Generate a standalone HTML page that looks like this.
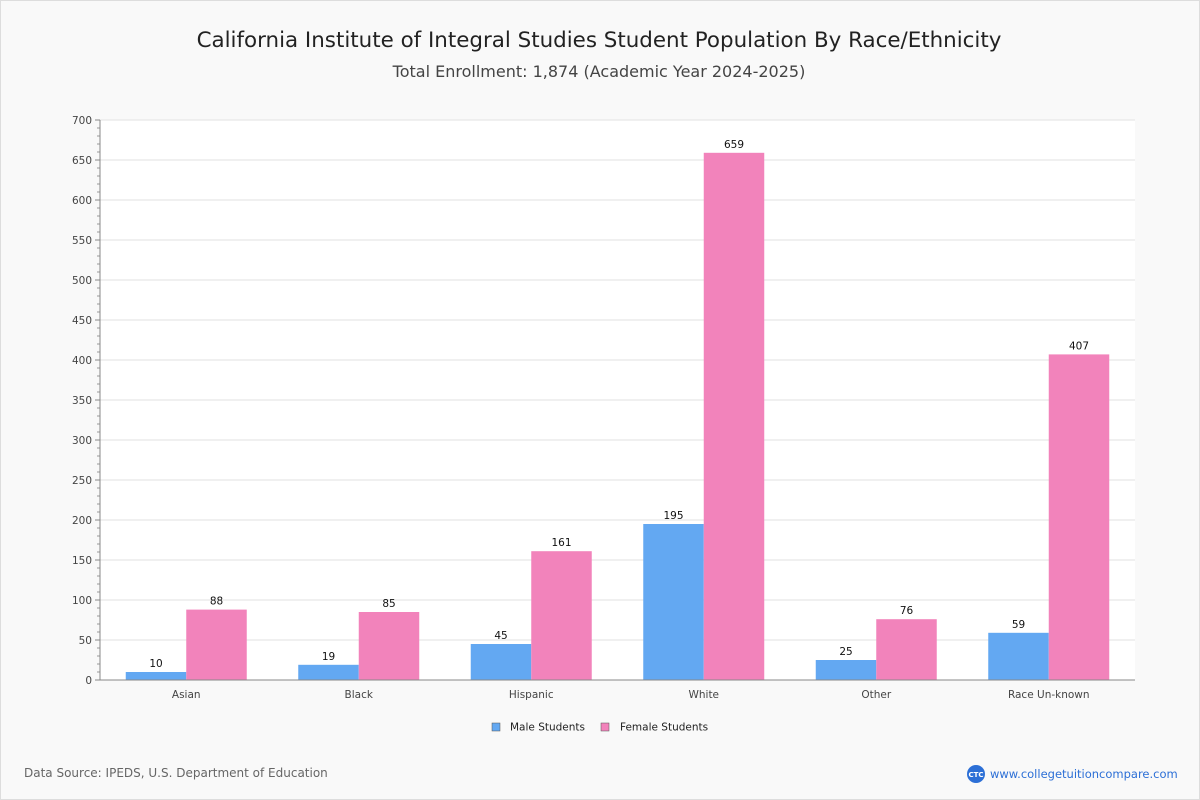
<!DOCTYPE html>
<html><head><meta charset="utf-8"><style>
body{margin:0;background:#f9f9f9;font-family:"DejaVu Sans","Liberation Sans",sans-serif;}
#wrap{position:relative;width:1198px;height:798px;border:1px solid #ddd;background:#f9f9f9;}
</style></head><body>
<div id="wrap">
<svg id="chart" width="1198" height="798" style="position:absolute;left:0;top:0">
<text x="598" y="46" text-anchor="middle" font-size="21.4" fill="#222">California Institute of Integral Studies Student Population By Race/Ethnicity</text>
<text x="598" y="76" text-anchor="middle" font-size="16" fill="#444">Total Enrollment: 1,874 (Academic Year 2024-2025)</text>
<rect x="99" y="119" width="1035" height="560" fill="#fff"/>
<g id="grid"></g><g id="bars"></g><g id="axes"></g>
<g>
<rect x="491" y="722" width="8" height="8" fill="#63a8f2" stroke="#555" stroke-width="0.5"/>
<text x="509" y="729.5" font-size="10.5" fill="#222">Male Students</text>
<rect x="600" y="722" width="8" height="8" fill="#f283bb" stroke="#555" stroke-width="0.5"/>
<text x="619" y="729.5" font-size="10.5" fill="#222">Female Students</text>
</g>
<text x="23" y="776" font-size="12" fill="#666">Data Source: IPEDS, U.S. Department of Education</text>
<circle cx="975" cy="773" r="9" fill="#2c6fd6"/>
<text x="975" y="776" text-anchor="middle" font-size="7" fill="#fff" font-weight="bold">CTC</text>
<text x="989" y="777" font-size="11.5" fill="#2c6fd6">www.collegetuitioncompare.com</text>
</svg>
</div>
<script>
const categories=["Asian","Black","Hispanic","White","Other","Race Un-known"];
const maleValues=[10,19,45,195,25,59];
const femaleValues=[88,85,161,659,76,407];
const yTicks=[0,50,100,150,200,250,300,350,400,450,500,550,600,650,700];
const NS="http://www.w3.org/2000/svg";
const x0=99,x1=1134,y0=679,y1=119,ymax=700;
const y=v=>y0-(v/ymax)*(y0-y1);
const band=(x1-x0)/categories.length;
function mk(tag,attrs,parent,text){const e=document.createElementNS(NS,tag);for(const k in attrs)e.setAttribute(k,attrs[k]);if(text!==undefined)e.textContent=text;parent.appendChild(e);return e;}
const grid=document.getElementById('grid'),bars=document.getElementById('bars'),axes=document.getElementById('axes');
yTicks.forEach(t=>{
 if(t>0){const l=mk('line',{x1:x0,x2:x1,y1:y(t),y2:y(t),stroke:'#e2e2e2'},grid);
 
 }
 const tl=mk('text',{x:91,y:y(t)+4,'text-anchor':'end','font-size':10.5,fill:'#444'},axes,t);
 
 
 mk('line',{x1:94,x2:x0,y1:y(t),y2:y(t),stroke:'#888'},axes);
});
for(let v=10;v<ymax;v+=10){if(v%50)mk('line',{x1:96,x2:x0,y1:y(v),y2:y(v),stroke:'#999'},axes);}
const ax=mk('line',{x1:x0,x2:x0,y1:y1,y2:y0,stroke:'#888'},axes);


const xa=mk('line',{x1:x0,x2:x1,y1:y0,y2:y0,stroke:'#888'},axes);


const bw=60.5;
categories.forEach((c,i)=>{
 const cx=x0+band*(i+0.5);
 [[maleValues[i],'#63a8f2',cx-bw,'male'],[femaleValues[i],'#f283bb',cx,'female']].forEach(([v,col,bx,s])=>{
  const r=mk('rect',{x:bx,y:y(v),width:bw,height:y0-y(v),fill:col},bars);
  
  
  const t=mk('text',{x:bx+bw/2,y:y(v)-5,'text-anchor':'middle','font-size':10.5,fill:'#111'},bars,v);
  
  
 });
 const xl=mk('text',{x:cx,y:697,'text-anchor':'middle','font-size':10.5,fill:'#444'},axes,c);
 
 
});
</script>
</body></html>
